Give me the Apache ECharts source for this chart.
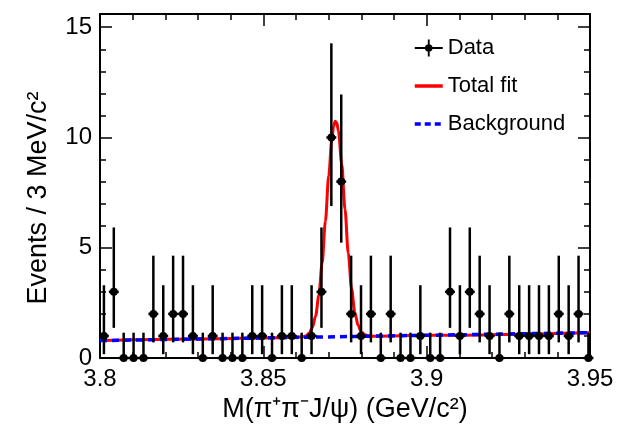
<!DOCTYPE html>
<html>
<head>
<meta charset="utf-8">
<script src="https://cdn.jsdelivr.net/npm/echarts@6/dist/echarts.min.js"></script>
<style>
html, body { margin: 0; padding: 0; background: #fff; }
#chart { width: 638px; height: 430px; }
</style>
</head>
<body>
<div id="chart"></div>
<script>
// events per bin (50 bins from 3.80 to 3.95)
var counts = [1, 3, 0, 0, 0, 2, 1, 2, 2, 1,
              0, 1, 0, 0, 0, 1, 1, 0, 1, 1,
              0, 1, 3, 10, 8, 2, 1, 2, 0, 2,
              0, 0, 1, 0, 0, 3, 1, 3, 2, 1,
              0, 2, 1, 1, 1, 1, 2, 1, 2, 0];
// poisson interval ends for each count seen
var errLow  = {0: 0,     1: 0.173, 2: 0.708, 3: 1.367, 8: 5.23,  10: 6.89};
var errHigh = {0: 1.148, 1: 3.30,  2: 4.64,  3: 5.92,  8: 11.95, 10: 14.27};
// first bin centre and bin spacing as drawn
var firstBin = 3.8012;
var binStep = 0.003027;

// total fit curve
var fitTotal = [
    [3.800, 0.79], [3.830, 0.86], [3.855, 0.92], [3.860, 0.94], [3.862, 0.96],
    [3.863, 1.00], [3.864, 1.12], [3.865, 1.38], [3.866, 1.90], [3.867, 2.85],
    [3.868, 4.30], [3.869, 6.20], [3.870, 8.25], [3.871, 9.95], [3.8715, 10.50],
    [3.872, 10.74], [3.8725, 10.66], [3.873, 10.28], [3.874, 8.80], [3.875, 6.75],
    [3.876, 4.75], [3.877, 3.15], [3.878, 2.08], [3.879, 1.48], [3.880, 1.18],
    [3.881, 1.06], [3.882, 1.01], [3.884, 0.99], [3.900, 1.03], [3.950, 1.15]
];
// background component
var background = [[3.800, 0.79], [3.950, 1.15]];

var xMin = 3.80, xMax = 3.95, yMin = 0, yMax = 15.6;

var points = counts.map(function (n, i) {
    return [firstBin + i * binStep, errLow[n], errHigh[n], n];
});

var font = '"Liberation Sans", Arial, Helvetica, sans-serif';

function renderPoint(params, api) {
    var x = api.value(0);
    var n = api.value(3);
    var top = api.coord([x, api.value(2)]);
    var bot = api.coord([x, api.value(1)]);
    var left = api.coord([x - binStep / 2, n]);
    var right = api.coord([x + binStep / 2, n]);
    var st = { stroke: '#000', lineWidth: 2.5 };
    return {
        type: 'group',
        children: [
            { type: 'line', shape: { x1: top[0], y1: top[1], x2: bot[0], y2: bot[1] }, style: st },
            { type: 'line', shape: { x1: left[0], y1: left[1], x2: right[0], y2: right[1] }, style: st },
            { type: 'circle', shape: { cx: left[0] + (right[0] - left[0]) / 2, cy: left[1], r: 4 }, style: { fill: '#000' } }
        ]
    };
}

// shared axis bits
function xAx(pos, labels) {
    return {
        type: 'value', position: pos, min: xMin, max: xMax, interval: 0.05,
        axisLine: { show: true, onZero: false, lineStyle: { color: '#000', width: 2 } },
        axisTick: { show: true, inside: true, length: 12, lineStyle: { color: '#000', width: 1.5 } },
        minorTick: { show: true, splitNumber: 5, length: 6, lineStyle: { color: '#000', width: 1.5 } },
        axisLabel: { show: labels, color: '#000', fontSize: 24, fontFamily: font, margin: 9 },
        splitLine: { show: false }
    };
}
function yAx(pos, step, len, labels, line) {
    return {
        type: 'value', position: pos, min: yMin, max: yMax, interval: step,
        axisLine: { show: line, onZero: false, lineStyle: { color: '#000', width: 2 } },
        axisTick: { show: true, inside: true, length: len, lineStyle: { color: '#000', width: 1.5 } },
        axisLabel: { show: labels, color: '#000', fontSize: 24, fontFamily: font, margin: 8, showMaxLabel: false },
        splitLine: { show: false }
    };
}

var xBottom = xAx('bottom', true);
xBottom.name = 'M(π⁺π⁻J/ψ) (GeV/c²)';
xBottom.nameLocation = 'middle';
xBottom.nameGap = 38;
xBottom.nameTextStyle = { color: '#000', fontSize: 27, fontFamily: font };

var yLeft = yAx('left', 5, 12, true, true);
yLeft.name = 'Events / 3 MeV/c²';
yLeft.nameLocation = 'middle';
yLeft.nameGap = 48;
yLeft.nameTextStyle = { color: '#000', fontSize: 27, fontFamily: font, padding: [0, 24, 0, 0] };

var chart = echarts.init(document.getElementById('chart'));
chart.setOption({
    backgroundColor: '#fff',
    animation: false,
    grid: { left: 100, right: 48, top: 14, bottom: 72 },
    xAxis: [xBottom, xAx('top', false)],
    yAxis: [
        yLeft,
        yAx('left', 1, 6, false, false),
        yAx('right', 5, 12, false, true),
        yAx('right', 1, 6, false, false)
    ],
    legend: {
        orient: 'vertical',
        left: 408, top: 32,
        itemWidth: 28, itemHeight: 18, itemGap: 16,
        textStyle: { color: '#000', fontSize: 22, fontFamily: font },
        data: [
            { name: 'Data', icon: 'path://M0,8h30v2h-30z M14,0h2v18h-2z M11,9a4,4 0 1,1 8,0a4,4 0 1,1 -8,0z' },
            { name: 'Total fit', itemStyle: { opacity: 0 }, lineStyle: { width: 3.5 } },
            { name: 'Background', itemStyle: { opacity: 0 }, lineStyle: { width: 3.5, type: [6, 4] } }
        ]
    },
    series: [
        {
            name: 'Total fit', type: 'line', data: fitTotal,
            showSymbol: false, symbol: 'none', smooth: 0.3, smoothMonotone: 'x',
            color: '#ff0000', lineStyle: { color: '#ff0000', width: 3 }, z: 2
        },
        {
            name: 'Background', type: 'line', data: background,
            showSymbol: false, symbol: 'none',
            color: '#0000ff', lineStyle: { color: '#0000ff', width: 3.5, type: [7, 5] }, z: 3
        },
        {
            name: 'Data', type: 'custom', data: points, renderItem: renderPoint,
            encode: { x: 0, y: [1, 2, 3] }, clip: false,
            color: '#000', itemStyle: { color: '#000' }, z: 4
        }
    ]
});
</script>
</body>
</html>
